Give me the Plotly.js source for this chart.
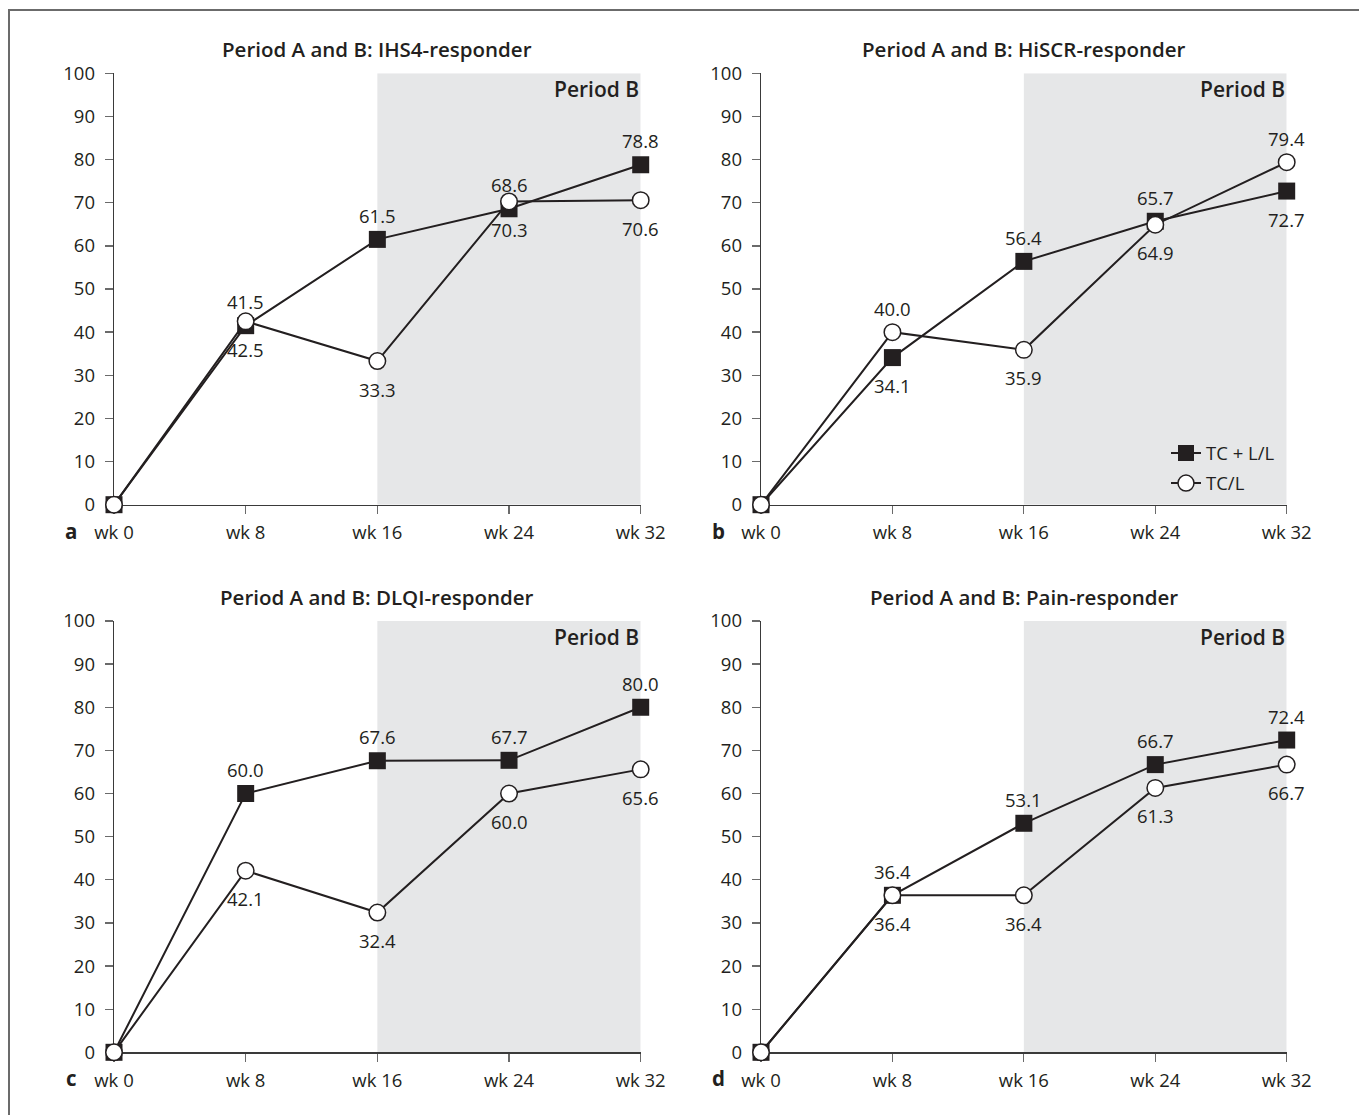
<!DOCTYPE html>
<html>
<head>
<meta charset="utf-8">
<script src="https://cdn.plot.ly/plotly-3.0.1.min.js"></script>
<style>
  html, body { margin: 0; padding: 0; background: #ffffff; }
  #wrap { position: relative; width: 1359px; height: 1115px; overflow: hidden; }
  #chart { position: absolute; left: 0; top: 0; width: 1359px; height: 1115px; }
  #frame { position: absolute; left: 8px; top: 9px; width: 1400px; height: 1200px;
           border-left: 2px solid #6b6b6b; border-top: 2px solid #6b6b6b; pointer-events: none; }
</style>
</head>
<body>
<div id="wrap">
  <div id="chart"></div>
  <div id="frame"></div>
</div>
<script>
// ---------------- data ----------------
const weeks = [0, 8, 16, 24, 32];
const weekLabels = ['wk 0', 'wk 8', 'wk 16', 'wk 24', 'wk 32'];
const yTicks = [0, 10, 20, 30, 40, 50, 60, 70, 80, 90, 100];
const seriesNames = ['TC + L/L', 'TC/L'];
const panelTitles = [
  'Period A and B: IHS4-responder',
  'Period A and B: HiSCR-responder',
  'Period A and B: DLQI-responder',
  'Period A and B: Pain-responder'
];
const panelLetters = ['a', 'b', 'c', 'd'];
const periodLabel = 'Period B';
const periodStart = 16;
const periodEnd = 32;

const ihs4TcLL = [0, 41.5, 61.5, 68.6, 78.8];
const ihs4TcL  = [0, 42.5, 33.3, 70.3, 70.6];
const hiscrTcLL = [0, 34.1, 56.4, 65.7, 72.7];
const hiscrTcL  = [0, 40.0, 35.9, 64.9, 79.4];
const dlqiTcLL = [0, 60.0, 67.6, 67.7, 80.0];
const dlqiTcL  = [0, 42.1, 32.4, 60.0, 65.6];
const painTcLL = [0, 36.4, 53.1, 66.7, 72.4];
const painTcL  = [0, 36.4, 36.4, 61.3, 66.7];

// label placement (above / below the point), index-aligned with weeks
const ihs4PosLL = [null, 'top', 'top', 'top', 'top'];
const ihs4PosL  = [null, 'bottom', 'bottom', 'bottom', 'bottom'];
const hiscrPosLL = [null, 'bottom', 'top', 'top', 'bottom'];
const hiscrPosL  = [null, 'top', 'bottom', 'bottom', 'top'];
const dlqiPosLL = [null, 'top', 'top', 'top', 'top'];
const dlqiPosL  = [null, 'bottom', 'bottom', 'bottom', 'bottom'];
const painPosLL = [null, 'top', 'top', 'top', 'top'];
const painPosL  = [null, 'bottom', 'bottom', 'bottom', 'bottom'];

// ---------------- layout geometry ----------------
const W = 1359, H = 1115;
const xDomLeft = [114 / W, 640.7 / W];
const xDomRight = [761 / W, 1286.7 / W];
const yDomTop = [1 - 504.7 / H, 1 - 73.3 / H];
const yDomBottom = [1 - 1052.3 / H, 1 - 621 / H];

const panels = [
  { ll: ihs4TcLL, l: ihs4TcL, pll: ihs4PosLL, pl: ihs4PosL, xd: xDomLeft, yd: yDomTop },
  { ll: hiscrTcLL, l: hiscrTcL, pll: hiscrPosLL, pl: hiscrPosL, xd: xDomRight, yd: yDomTop },
  { ll: dlqiTcLL, l: dlqiTcL, pll: dlqiPosLL, pl: dlqiPosL, xd: xDomLeft, yd: yDomBottom },
  { ll: painTcLL, l: painTcL, pll: painPosLL, pl: painPosL, xd: xDomRight, yd: yDomBottom }
];

const INK = '#231f20';
const FONT = '"Open Sans", "Noto Sans", "DejaVu Sans", sans-serif';
const TXT = 18.5;
const traces = [];
const annotations = [];
const shapes = [];
const layout = {
  width: W, height: H,
  margin: { l: 0, r: 0, t: 0, b: 0, pad: 0 },
  paper_bgcolor: '#ffffff',
  plot_bgcolor: 'rgba(0,0,0,0)',
  font: { family: FONT, size: TXT, color: INK },
  showlegend: true,
  legend: {
    x: 1166 / W, xanchor: 'left',
    y: 1 - 468.5 / H, yanchor: 'middle',
    bgcolor: 'rgba(0,0,0,0)',
    font: { family: FONT, size: TXT, color: INK },
    traceorder: 'grouped',
    tracegroupgap: 3,
    itemwidth: 30
  },
  annotations: annotations,
  shapes: shapes
};

panels.forEach((p, i) => {
  const n = i + 1;
  const xa = n === 1 ? 'x' : 'x' + n;
  const ya = n === 1 ? 'y' : 'y' + n;
  const xKey = n === 1 ? 'xaxis' : 'xaxis' + n;
  const yKey = n === 1 ? 'yaxis' : 'yaxis' + n;

  layout[xKey] = {
    domain: p.xd, anchor: ya, range: [0, 32],
    tickvals: weeks, ticktext: weekLabels,
    showgrid: false, zeroline: false,
    showline: true, linecolor: '#3a3a3a', linewidth: 1.3,
    ticks: 'outside', ticklen: 8, tickwidth: 1.3, tickcolor: '#6a6a6a',
    ticklabelstandoff: 3,
    tickfont: { family: FONT, size: TXT, color: INK },
    layer: 'below traces', fixedrange: true
  };
  layout[yKey] = {
    domain: p.yd, anchor: xa, range: [0, 100],
    tickvals: yTicks,
    showgrid: false, zeroline: false,
    showline: true, linecolor: '#3a3a3a', linewidth: 1.3,
    ticks: 'outside', ticklen: 8, tickwidth: 1.3, tickcolor: '#6a6a6a',
    ticklabelstandoff: 6,
    tickfont: { family: FONT, size: TXT, color: INK },
    layer: 'below traces', fixedrange: true
  };

  // Period B shading
  shapes.push({
    type: 'rect', xref: xa, yref: ya,
    x0: periodStart, x1: periodEnd, y0: 0, y1: 100,
    fillcolor: '#e6e7e8', line: { width: 0 }, layer: 'below'
  });

  annotations.push({
    xref: xa, yref: ya, x: periodEnd, y: 100,
    xanchor: 'right', yanchor: 'top', yshift: 0, showarrow: false,
    text: periodLabel,
    font: { family: FONT, size: 21, color: INK, weight: 600 }
  });

  // panel title
  const cx = (p.xd[0] + p.xd[1]) / 2;
  annotations.push({
    xref: 'paper', yref: 'paper', x: cx, y: p.yd[1],
    xanchor: 'center', yanchor: 'middle', yshift: 24, showarrow: false,
    text: panelTitles[i],
    font: { family: FONT, size: 20.5, color: INK, weight: 600 }
  });

  // panel letter
  annotations.push({
    xref: 'paper', yref: 'paper', x: p.xd[0], y: p.yd[0],
    xanchor: 'center', yanchor: 'middle', xshift: -43, yshift: -26, showarrow: false,
    text: panelLetters[i],
    font: { family: FONT, size: 20.5, color: INK, weight: 700 }
  });

  const showLeg = (i === 1);
  traces.push({
    type: 'scatter', mode: 'lines+markers', x: weeks, y: p.ll,
    xaxis: xa, yaxis: ya, name: seriesNames[0], legendgroup: 'a',
    showlegend: showLeg, cliponaxis: false,
    line: { color: INK, width: 2 },
    marker: { symbol: 'square', size: 17, color: INK, line: { width: 0 } },
    hoverinfo: 'x+y'
  });
  traces.push({
    type: 'scatter', mode: 'lines+markers', x: weeks, y: p.l,
    xaxis: xa, yaxis: ya, name: seriesNames[1], legendgroup: 'b',
    showlegend: showLeg, cliponaxis: false,
    line: { color: INK, width: 2 },
    marker: { symbol: 'circle', size: 16.5, color: '#ffffff', line: { width: 1.5, color: INK } },
    hoverinfo: 'x+y'
  });

  // value labels
  [[p.ll, p.pll], [p.l, p.pl]].forEach(([vals, pos]) => {
    vals.forEach((v, k) => {
      if (!pos[k]) return;
      annotations.push({
        xref: xa, yref: ya, x: weeks[k], y: v,
        xanchor: 'center', yanchor: 'middle',
        yshift: pos[k] === 'top' ? 24 : -28,
        showarrow: false, text: v.toFixed(1),
        font: { family: FONT, size: TXT, color: INK }
      });
    });
  });
});

Plotly.newPlot('chart', traces, layout, { staticPlot: true, displayModeBar: false });
</script>
</body>
</html>
